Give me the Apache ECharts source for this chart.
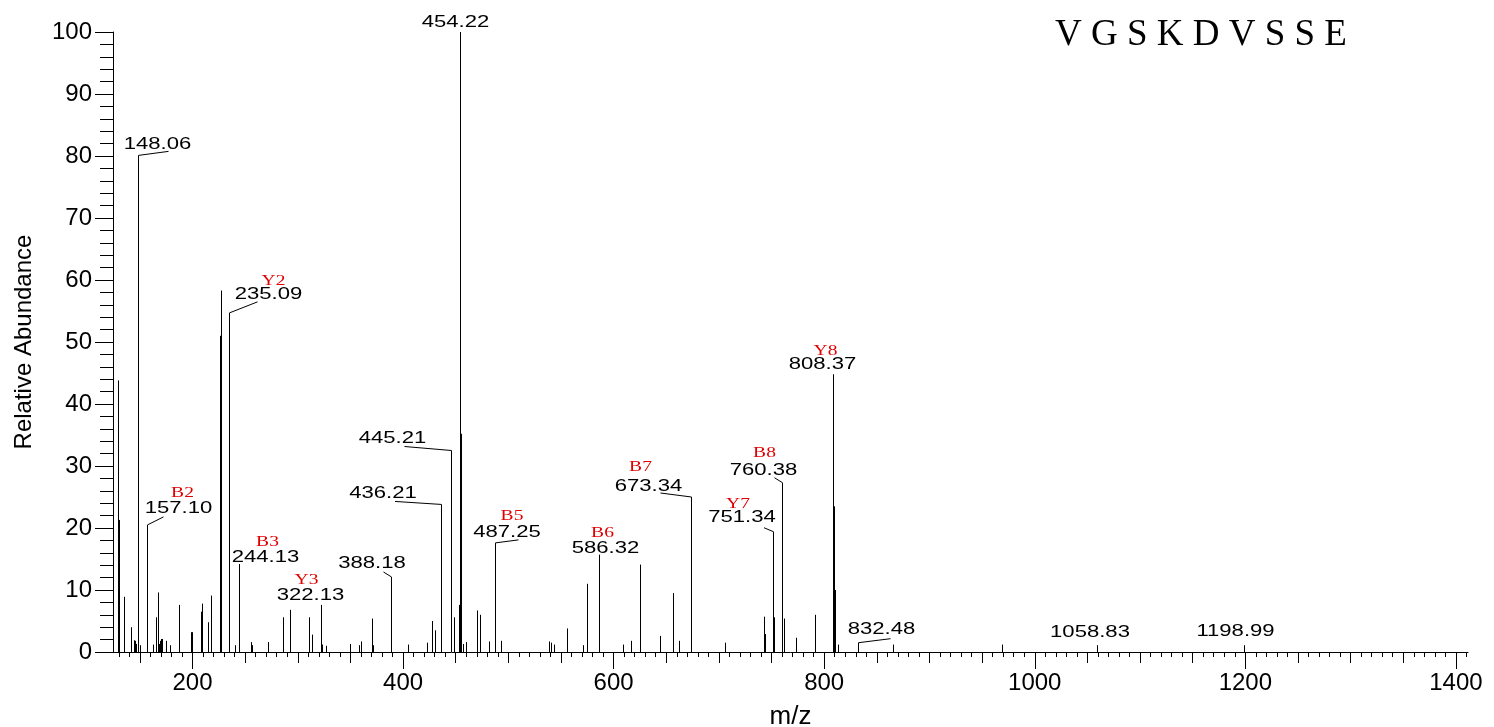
<!DOCTYPE html>
<html><head><meta charset="utf-8">
<script src="https://cdn.jsdelivr.net/npm/echarts@6/dist/echarts.min.js"></script>
<style>html,body{margin:0;padding:0;background:#fff}#c{width:1494px;height:727px}</style>
</head><body><div id="c"></div>
<script>
// ---- data ----
const sequenceTitle = 'V G S K D V S S E';
const peakMz = [129.1,130.1,134.7,141.9,144.4,145.4,146.4,149.8,162.8,165.0,167.0,168.0,169.0,170.0,171.0,174.9,178.9,186.9,198.3,199.3,207.8,209.0,215.0,217.3,225.9,226.9,240.4,255.3,256.3,271.7,286.0,292.3,311.0,313.2,323.0,326.8,349.6,358.1,359.7,370.2,371.7,404.4,422.4,427.2,430.6,448.7,453.4,455.0,457.2,459.5,469.9,473.0,481.3,493.0,538.9,540.2,543.3,556.0,570.6,574.4,608.9,616.5,625.0,644.0,656.0,662.0,705.4,743.0,744.0,752.3,759.5,761.4,773.2,791.2,809.4,810.4,813.4,865.6,968.7];
const peakIntensity = [43.8,21.3,8.9,4.0,1.9,1.8,1.3,1.1,1.2,5.6,9.6,1.3,1.8,2.1,2.1,1.8,1.1,7.6,3.2,3.2,6.5,7.8,4.8,9.1,51.0,58.3,1.1,1.6,1.1,1.6,5.6,6.8,5.6,2.8,1.2,1.0,1.3,1.1,1.7,5.4,1.1,1.2,1.5,5.0,3.5,5.6,7.6,35.2,1.3,1.6,6.7,6.0,1.7,1.8,1.7,1.5,1.2,3.8,1.1,11.0,1.2,1.8,14.1,2.6,9.5,1.8,1.5,5.7,2.9,5.6,11.7,5.4,2.3,6.0,23.5,10.0,1.2,1.2,1.2];
const annotMz = [148.06,157.10,235.09,244.13,322.13,388.18,436.21,445.21,454.22,487.25,586.32,673.34,751.34,760.38,808.37,832.48,1058.83,1198.99];
const annotIntensity = [80.1,20.5,54.7,14.2,7.6,12.1,23.8,32.5,100,17.6,15.7,25.0,19.4,27.3,44.8,1.5,1.1,1.1];
const ionLabels = ['','B2','Y2','B3','Y3','','','','','B5','B6','B7','Y7','B8','Y8','','',''];
const xTickLabels = [200,400,600,800,1000,1200,1400];
const yTickLabels = [0,10,20,30,40,50,60,70,80,90,100];

// ---- label layout (pixel offsets from peak top) ----
const labelDx = [19,31,39,26,-11,-19.5,-58.5,-59,-5,11.5,6,-43,-31.5,-19,-11,23,-7.5,-9];
const labelDy = [-11,-17,-19,-7,-10,-14,-11,-12,-10,-11,-6.5,-11,-14,-12,-10,-13,-13,-14];
const leaderDx = [30,16,28,null,null,-8,-46.5,-47,null,23,null,-31,-9.5,-8,null,32,null,null];
const leaderDy = [-4,-8,-11,null,null,-5,-3,-4,null,-3,null,-4,-4,-5,null,-4,null,null];
const ionDx = [0,4,5,2,-4,0,0,0,0,5,-3,-8,-4,1,3,0,0,0];
const ionDy = [0,-15,-13,-15,-15,0,0,0,0,-16,-15,-19,-14,-18,-13,0,0,0];

const medTicks = []; for (let v = 150; v <= 1400; v += 50) medTicks.push(v);
const smallTicks = []; for (let v = 130; v <= 1410; v += 10) smallTicks.push(v);

const XMIN = 124.5, XMAX = 1411.5;
const chart = echarts.init(document.getElementById('c'), null, {renderer: 'canvas'});

function stickItem(params, api) {
  const top = api.coord([api.value(0), api.value(1)]);
  const base = api.coord([api.value(0), 0]);
  const x = Math.round(top[0]) + 0.5;
  return {type: 'line', shape: {x1: x, y1: base[1], x2: x, y2: top[1]},
          style: {stroke: '#000', lineWidth: 1}};
}
function annotItem(params, api) {
  const i = params.dataIndex;
  const top = api.coord([api.value(0), api.value(1)]);
  const base = api.coord([api.value(0), 0]);
  const x = Math.round(top[0]) + 0.5;
  const y = top[1];
  const children = [{type: 'line', shape: {x1: x, y1: base[1], x2: x, y2: y}, style: {stroke: '#000', lineWidth: 1}}];
  if (leaderDx[i] !== null) {
    children.push({type: 'line', shape: {x1: x, y1: y, x2: x + leaderDx[i], y2: y + leaderDy[i]}, style: {stroke: '#000', lineWidth: 1}});
  }
  const cx = x + labelDx[i], cy = y + labelDy[i];
  children.push({type: 'text', x: cx, y: cy, scaleX: 1.3,
    style: {text: annotMz[i].toFixed(2), x: 0, y: 0, align: 'center', verticalAlign: 'middle',
            fontFamily: 'Liberation Sans, Arial, sans-serif', fontSize: 17, fill: '#000'}});
  if (ionLabels[i]) {
    children.push({type: 'text', x: cx + ionDx[i], y: cy + ionDy[i], scaleX: 1.3,
      style: {text: ionLabels[i], x: 0, y: 0, align: 'center', verticalAlign: 'middle',
              fontFamily: 'Liberation Serif, Times New Roman, serif', fontSize: 15, fill: '#e00000'}});
  }
  return {type: 'group', children: children};
}

const baseX = {type: 'value', min: XMIN, max: XMAX, position: 'bottom', gridIndex: 0, splitLine: {show: false}};
const option = {
  animation: false,
  backgroundColor: '#fff',
  grid: {left: 113, right: 26, top: 32, bottom: 75, outerBoundsMode: 'none', containLabel: false},
  graphic: [{type: 'text', left: 1055, top: 17,
    style: {text: sequenceTitle, fontFamily: 'Liberation Serif, Times New Roman, serif', fontSize: 37, fill: '#000'}}],
  xAxis: [
    Object.assign({}, baseX, {
      name: 'm/z', nameLocation: 'middle', nameGap: 52,
      nameTextStyle: {fontFamily: 'Liberation Sans, Arial, sans-serif', fontSize: 26, color: '#000'},
      axisLine: {show: true, onZero: false, lineStyle: {color: '#000', width: 1}},
      axisTick: {show: true, length: 17, customValues: xTickLabels, lineStyle: {color: '#000'}},
      axisLabel: {show: true, customValues: xTickLabels, margin: 19, formatter: (v) => String(v),
                  fontFamily: 'Liberation Sans, Arial, sans-serif', fontSize: 24, color: '#000'}
    }),
    Object.assign({}, baseX, {
      axisLine: {show: false, onZero: false},
      axisTick: {show: true, length: 11, customValues: medTicks, lineStyle: {color: '#000'}},
      axisLabel: {show: false}
    }),
    Object.assign({}, baseX, {
      axisLine: {show: false, onZero: false},
      axisTick: {show: true, length: 5, customValues: smallTicks, lineStyle: {color: '#000'}},
      axisLabel: {show: false}
    })
  ],
  yAxis: {
    type: 'value', min: 0, max: 100, interval: 10,
    name: 'Relative Abundance', nameLocation: 'middle', nameGap: 77,
    nameTextStyle: {fontFamily: 'Liberation Sans, Arial, sans-serif', fontSize: 24, color: '#000'},
    axisLine: {show: true, lineStyle: {color: '#000', width: 1}},
    axisTick: {show: true, length: 18, customValues: yTickLabels, lineStyle: {color: '#000'}},
    minorTick: {show: true, splitNumber: 5, length: 13, lineStyle: {color: '#000'}},
    axisLabel: {margin: 21, customValues: yTickLabels, fontFamily: 'Liberation Sans, Arial, sans-serif', fontSize: 24, color: '#000'},
    splitLine: {show: false}, minorSplitLine: {show: false}
  },
  series: [
    {type: 'custom', name: 'peaks', xAxisIndex: 0, yAxisIndex: 0, clip: false, silent: true,
     encode: {x: 0, y: 1},
     data: peakMz.map((m, i) => [m, peakIntensity[i]]), renderItem: stickItem},
    {type: 'custom', name: 'annotated', xAxisIndex: 0, yAxisIndex: 0, clip: false, silent: true,
     encode: {x: 0, y: 1},
     data: annotMz.map((m, i) => [m, annotIntensity[i]]), renderItem: annotItem}
  ]
};
chart.setOption(option);
</script>
</body></html>
